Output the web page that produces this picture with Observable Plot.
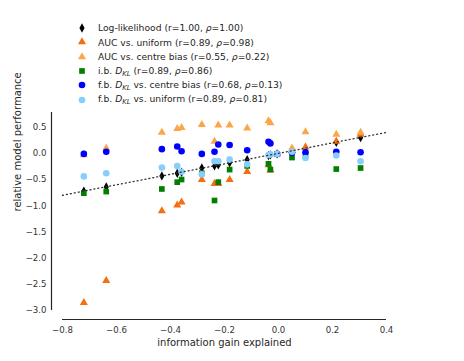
<!DOCTYPE html>
<html>
<head>
<meta charset="utf-8">
<script src="https://cdn.jsdelivr.net/npm/d3@7"></script>
<script src="https://cdn.jsdelivr.net/npm/@observablehq/plot@0.6"></script>
<style>
  html, body { margin: 0; padding: 0; background: #fff; }
  #wrap { position: relative; width: 464px; height: 361px; font-family: "DejaVu Sans", sans-serif; }
  #legend { position: absolute; left: 76px; top: 20.5px; font-size: 9.2px; color: #262626; }
  .row { height: 14.45px; display: flex; align-items: center; white-space: nowrap; }
  .row svg { width: 12px; height: 12px; margin-right: 10px; flex: none; }
  .row sub { font-size: 6.8px; vertical-align: -2px; }
</style>
</head>
<body>
<div id="wrap"><div id="legend"></div></div>
<script>
// information gain explained (x), one value per model
const infoGain = [-0.721, -0.638, -0.432, -0.375, -0.359, -0.284, -0.237, -0.223, -0.181, -0.116, -0.037, -0.030, -0.005, 0.050, 0.100, 0.214, 0.304];
// relative model performance per metric
const logLik    = [-0.72, -0.64, -0.43, -0.38, -0.36, -0.28, -0.24, -0.22, -0.18, -0.12, -0.04, -0.03, -0.01, 0.05, 0.10, 0.21, 0.30];
const aucUniform = [-2.85, -2.43, -1.10, -0.99, -0.93, -0.50, -0.58, -0.58, -0.50, -0.35, -0.22, -0.32, -0.01, 0.05, 0.12, 0.23, 0.36];
const aucCentre  = [-0.03, 0.10, 0.40, 0.47, 0.49, 0.55, 0.23, 0.54, 0.54, 0.48, 0.62, 0.58, -0.01, 0.10, 0.41, 0.36, 0.40];
const ibDKL      = [-0.76, -0.73, -0.68, -0.55, -0.50, -0.38, -0.90, -0.55, -0.31, -0.24, -0.20, -0.31, -0.01, -0.08, -0.03, -0.30, -0.28];
const fbCentre   = [-0.01, 0.03, 0.08, 0.13, 0.04, -0.01, 0.03, 0.17, 0.16, 0.06, 0.22, 0.19, -0.01, 0.01, 0.02, 0.03, 0.02];
const fbUniform  = [-0.44, -0.38, -0.27, -0.24, -0.35, -0.40, -0.15, -0.15, -0.12, -0.21, -0.03, -0.02, -0.01, 0.03, -0.09, -0.04, -0.15];

const xTicks = [-0.8, -0.6, -0.4, -0.2, 0.0, 0.2, 0.4];
const yTicks = [-3.0, -2.5, -2.0, -1.5, -1.0, -0.5, 0.0, 0.5];
const identity = [-0.8, 0.4];

const thinDiamond = {
  draw(context, size) {
    const h = Math.sqrt(size) * 0.8, w = h * 0.55;
    context.moveTo(0, -h); context.lineTo(w, 0); context.lineTo(0, h); context.lineTo(-w, 0); context.closePath();
  }
};

const series = [
  {name: 'Log-likelihood (r=1.00, <i>ρ</i>=1.00)', values: logLik, fill: "#000000", symbol: thinDiamond, r: 3.3},
  {name: 'AUC vs. uniform (r=0.89, <i>ρ</i>=0.98)', values: aucUniform, fill: "#f36f12", symbol: d3.symbolTriangle, r: 3.0},
  {name: 'AUC vs. centre bias (r=0.55, <i>ρ</i>=0.22)', values: aucCentre, fill: "#fca64a", symbol: d3.symbolTriangle, r: 3.0},
  {name: 'i.b. <i>D</i><sub><i>KL</i></sub> (r=0.89, <i>ρ</i>=0.86)', values: ibDKL, fill: "#007f00", symbol: d3.symbolSquare, r: 3.2},
  {name: 'f.b. <i>D</i><sub><i>KL</i></sub> vs. centre bias (r=0.68, <i>ρ</i>=0.13)', values: fbCentre, fill: "#0000ff", symbol: d3.symbolCircle, r: 3.3},
  {name: 'f.b. <i>D</i><sub><i>KL</i></sub> vs. uniform (r=0.89, <i>ρ</i>=0.81)', values: fbUniform, fill: "#87cefa", symbol: d3.symbolCircle, r: 3.3}
];

const dotMarks = series.map(s => Plot.dot(infoGain.map((x, i) => ({x, y: s.values[i]})), {
  x: "x", y: "y", symbol: () => s.symbol, fill: s.fill, r: s.r, stroke: "none"
}));

const plot = Plot.plot({
  width: 464, height: 361,
  marginLeft: 62, marginRight: 78, marginTop: 112, marginBottom: 51,
  style: {fontFamily: "DejaVu Sans, sans-serif", fontSize: "8.6px", color: "#333", background: "white"},
  x: {domain: [-0.8, 0.4]},
  y: {domain: [-3.0, 0.78]},
  symbol: {type: "identity"},
  marks: [
    Plot.axisX({ticks: xTicks, tickSize: 0, tickPadding: 16, tickFormat: d3.format(".1f"), label: null}),
    Plot.axisY({ticks: yTicks, tickSize: 0, tickPadding: 16, tickFormat: d3.format(".1f"), label: null}),
    Plot.ruleX([-0.8], {y1: -3.0, y2: 0.78, dx: -11, stroke: "#262626", strokeWidth: 1.2}),
    Plot.ruleY([-3.0], {x1: -0.8, x2: 0.4, dy: 9, stroke: "#262626", strokeWidth: 1.2}),
    ...dotMarks,
    Plot.line(identity, {x: d => d, y: d => d, stroke: "#333", strokeWidth: 1.3, strokeDasharray: "1,3"}),
    Plot.text(["information gain explained"], {frameAnchor: "bottom", dy: 35, fontSize: 10, fill: "#262626"}),
    Plot.text(["relative model performance"], {frameAnchor: "left", dx: -45, rotate: -90, fontSize: 10, fill: "#262626"})
  ]
});
document.getElementById("wrap").appendChild(plot);

const legend = document.getElementById("legend");
for (const s of series) {
  const row = document.createElement("div");
  row.className = "row";
  const size = Math.PI * s.r * s.r;
  const path = d3.symbol(s.symbol, size)();
  row.innerHTML = `<svg viewBox="-6 -6 12 12"><path d="${path}" fill="${s.fill}"></path></svg><span>${s.name}</span>`;
  legend.appendChild(row);
}
</script>
</body>
</html>
